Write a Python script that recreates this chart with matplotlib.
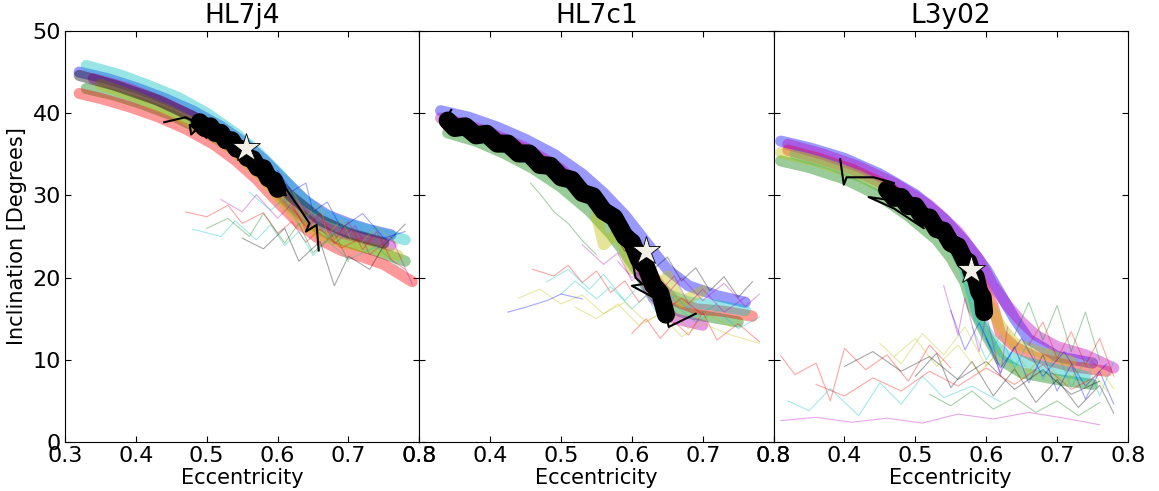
import matplotlib
matplotlib.use("Agg")
import matplotlib.pyplot as plt

names = ["HL7j4", "HL7c1", "L3y02"]
xticks = [0.3, 0.4, 0.5, 0.6, 0.7, 0.8]
yticks = [0, 10, 20, 30, 40, 50]
colors = ["b", "g", "r", "c", "m", "y", "k"]

# best fit (ecc, inc) for each object
best_e = [0.555, 0.620, 0.578]
best_i = [35.8, 23.2, 20.9]

# ---- HL7j4 walkers ----
j4_band = [
    ([0.32, 0.36, 0.40, 0.44, 0.48, 0.52, 0.55, 0.58, 0.61, 0.64, 0.67, 0.70, 0.73, 0.76],
     [45.0, 44.2, 43.1, 41.8, 40.3, 38.4, 36.6, 34.4, 31.8, 29.3, 27.6, 26.6, 25.8, 25.2]),
    ([0.33, 0.37, 0.41, 0.45, 0.49, 0.53, 0.56, 0.59, 0.62, 0.65, 0.68, 0.71, 0.74, 0.78],
     [43.0, 42.2, 41.1, 39.8, 38.1, 36.1, 34.0, 31.4, 28.6, 26.4, 24.9, 24.0, 23.2, 22.0]),
    ([0.32, 0.35, 0.39, 0.43, 0.47, 0.51, 0.54, 0.57, 0.60, 0.63, 0.66, 0.69, 0.72, 0.75, 0.79],
     [42.4, 41.8, 40.8, 39.6, 38.1, 36.2, 34.3, 32.0, 29.2, 26.6, 24.6, 23.3, 22.5, 21.6, 19.5]),
    ([0.33, 0.38, 0.42, 0.46, 0.50, 0.54, 0.57, 0.60, 0.63, 0.66, 0.69, 0.72, 0.75, 0.78],
     [45.8, 44.6, 43.3, 41.9, 40.0, 37.6, 35.4, 32.8, 30.0, 27.9, 26.7, 26.0, 25.3, 24.6]),
    ([0.34, 0.39, 0.44, 0.49, 0.53, 0.57, 0.60, 0.62, 0.65, 0.68, 0.72, 0.76],
     [44.2, 43.0, 41.3, 39.2, 37.0, 34.0, 30.9, 29.0, 26.8, 25.6, 24.8, 23.9]),
    ([0.35, 0.40, 0.45, 0.50, 0.54, 0.58, 0.61, 0.64, 0.67, 0.70, 0.74, 0.77],
     [43.5, 42.0, 40.2, 37.8, 35.4, 32.1, 29.0, 26.4, 24.8, 24.1, 23.4, 22.7]),
    ([0.32, 0.37, 0.43, 0.48, 0.52, 0.56, 0.59, 0.62, 0.66, 0.70, 0.75],
     [44.6, 43.4, 41.6, 39.6, 37.6, 35.0, 32.2, 29.8, 27.0, 25.4, 24.2]),
]
j4_cloud = [
    ([0.47, 0.50, 0.53, 0.55, 0.58, 0.60, 0.62, 0.64, 0.66, 0.69, 0.72],
     [28.0, 27.4, 28.8, 26.6, 27.9, 25.4, 26.8, 24.3, 25.9, 23.6, 24.9]),
    ([0.48, 0.52, 0.54, 0.57, 0.59, 0.61, 0.63, 0.65, 0.67, 0.70, 0.74, 0.77],
     [25.9, 25.0, 26.9, 24.6, 26.4, 23.9, 25.6, 22.7, 24.5, 22.2, 23.8, 21.3]),
    ([0.52, 0.55, 0.57, 0.60, 0.62, 0.64, 0.66, 0.68, 0.71, 0.73, 0.76, 0.79],
     [29.5, 28.0, 30.1, 27.2, 29.0, 25.8, 27.6, 24.1, 26.3, 22.8, 25.0, 19.2]),
    ([0.58, 0.60, 0.62, 0.64, 0.66, 0.67, 0.69, 0.71, 0.74, 0.77],
     [31.5, 29.0, 30.8, 27.5, 28.9, 25.2, 27.0, 23.5, 26.2, 24.0]),
    ([0.55, 0.58, 0.61, 0.63, 0.66, 0.68, 0.70, 0.73, 0.75, 0.78],
     [24.8, 23.5, 26.0, 22.0, 24.4, 19.0, 22.6, 21.0, 23.9, 26.5]),
    ([0.60, 0.62, 0.64, 0.65, 0.67, 0.69, 0.72, 0.75, 0.78],
     [33.0, 30.5, 31.5, 28.0, 29.2, 26.0, 27.8, 24.8, 25.6]),
    ([0.50, 0.53, 0.56, 0.58, 0.61, 0.63, 0.65, 0.68, 0.70],
     [26.0, 27.2, 25.0, 27.8, 24.2, 26.6, 23.0, 25.4, 22.0]),
    ([0.62, 0.64, 0.66, 0.68, 0.70, 0.72, 0.74, 0.76, 0.78],
     [28.6, 26.2, 27.8, 24.6, 26.8, 23.4, 25.6, 22.2, 21.0]),
    ([0.56, 0.59, 0.61, 0.63, 0.65, 0.67, 0.69],
     [30.4, 28.2, 29.6, 26.4, 28.0, 24.8, 26.2]),
]
j4_core_e = [0.490, 0.497, 0.505, 0.512, 0.520, 0.527, 0.535, 0.542, 0.550, 0.557,
             0.565, 0.572, 0.580, 0.587, 0.595, 0.600]
j4_core_i = [38.9, 38.2, 38.4, 37.6, 37.6, 36.7, 36.7, 35.7, 35.6, 34.6,
             34.4, 33.4, 33.3, 32.1, 31.8, 30.8]
j4_path_e = [0.440, 0.470, 0.492, 0.478, 0.476, 0.500, 0.492, 0.530, 0.570, 0.600,
             0.612, 0.598, 0.628, 0.645, 0.640, 0.655, 0.658]
j4_path_i = [38.9, 39.5, 38.6, 37.4, 38.6, 37.0, 39.0, 36.5, 33.5, 30.3,
             30.0, 32.5, 28.8, 26.6, 25.6, 26.4, 23.3]

# ---- HL7c1 walkers ----
c1_band = [
    ([0.33, 0.37, 0.41, 0.45, 0.49, 0.53, 0.56, 0.59, 0.61, 0.63, 0.65, 0.68, 0.72, 0.76],
     [40.3, 39.5, 38.3, 36.8, 35.0, 32.6, 30.3, 27.6, 25.4, 23.2, 21.0, 19.0, 17.8, 17.0]),
    ([0.34, 0.38, 0.42, 0.46, 0.50, 0.54, 0.57, 0.59, 0.61, 0.62, 0.64, 0.67, 0.71, 0.75],
     [37.6, 36.6, 35.1, 33.3, 31.0, 28.1, 25.3, 23.0, 20.5, 19.0, 16.9, 15.8, 15.2, 14.6]),
    ([0.34, 0.39, 0.44, 0.49, 0.53, 0.56, 0.58, 0.60, 0.62, 0.64, 0.66, 0.69, 0.73, 0.77],
     [39.0, 37.6, 35.9, 33.5, 30.9, 28.4, 26.3, 24.0, 21.5, 19.0, 17.2, 16.2, 15.9, 15.3]),
    ([0.35, 0.40, 0.45, 0.50, 0.54, 0.57, 0.60, 0.62, 0.63, 0.65, 0.68, 0.72, 0.76],
     [38.2, 36.6, 34.6, 32.2, 29.5, 27.0, 24.0, 21.0, 19.6, 18.0, 17.0, 16.6, 16.0]),
    ([0.33, 0.36, 0.40, 0.45, 0.50, 0.55, 0.58, 0.60, 0.61, 0.63, 0.66, 0.70],
     [39.4, 38.8, 37.6, 35.8, 33.2, 29.4, 26.5, 23.2, 21.0, 17.6, 15.0, 14.2]),
    ([0.55, 0.56, 0.58, 0.60, 0.62, 0.63, 0.65, 0.67, 0.70],
     [27.5, 24.0, 25.5, 21.0, 22.8, 18.0, 20.2, 17.0, 18.4]),
]
c1_cloud = [
    ([0.46, 0.49, 0.51, 0.53, 0.55, 0.57, 0.59, 0.61, 0.63, 0.65, 0.67, 0.70],
     [21.0, 20.2, 21.5, 19.4, 20.8, 18.2, 19.6, 17.0, 18.6, 16.2, 17.5, 15.5]),
    ([0.50, 0.52, 0.55, 0.57, 0.60, 0.62, 0.64, 0.66, 0.69, 0.72, 0.75, 0.78],
     [18.0, 19.6, 17.4, 18.9, 16.2, 17.8, 15.0, 16.7, 14.6, 16.0, 13.8, 15.2]),
    ([0.53, 0.56, 0.58, 0.60, 0.62, 0.65, 0.67, 0.70, 0.73, 0.76, 0.78],
     [24.0, 21.6, 23.0, 19.6, 21.2, 18.0, 20.0, 17.2, 19.3, 16.5, 18.0]),
    ([0.44, 0.47, 0.50, 0.53, 0.56, 0.59, 0.62, 0.65, 0.68, 0.71, 0.74, 0.77],
     [17.5, 18.6, 16.8, 17.9, 15.6, 17.0, 14.6, 16.2, 13.8, 15.4, 14.0, 16.0]),
    ([0.57, 0.59, 0.61, 0.63, 0.65, 0.67, 0.69, 0.71, 0.73, 0.75, 0.77],
     [26.0, 23.2, 24.8, 21.0, 22.5, 19.6, 21.2, 18.4, 20.1, 17.6, 19.5]),
    ([0.425, 0.45, 0.48, 0.50, 0.53],
     [15.8, 16.4, 17.2, 18.0, 17.4]),
    ([0.457, 0.47, 0.49, 0.51, 0.53, 0.55],
     [31.5, 30.2, 28.0, 26.6, 24.5, 22.8]),
    ([0.60, 0.62, 0.64, 0.66, 0.68, 0.70, 0.72, 0.75, 0.78],
     [13.2, 15.0, 12.6, 14.6, 13.0, 15.8, 12.4, 14.4, 12.2]),
    ([0.48, 0.51, 0.54, 0.56, 0.59, 0.61, 0.64, 0.66, 0.69, 0.72],
     [19.5, 21.0, 18.6, 20.4, 17.2, 19.0, 16.0, 17.8, 15.2, 16.8]),
    ([0.58, 0.60, 0.62, 0.64, 0.66, 0.68, 0.70, 0.73, 0.76],
     [22.0, 20.0, 21.6, 18.4, 20.2, 16.8, 18.6, 15.8, 17.6]),
    ([0.52, 0.55, 0.58, 0.61, 0.64, 0.67, 0.70, 0.74, 0.78],
     [16.4, 15.0, 16.8, 14.2, 15.6, 12.8, 14.4, 13.0, 12.0]),
]
c1_core_e = [0.340, 0.350, 0.365, 0.380, 0.395, 0.410, 0.425, 0.440, 0.455, 0.470,
             0.485, 0.500, 0.515, 0.530, 0.545, 0.560, 0.575, 0.590, 0.600, 0.610,
             0.620, 0.630, 0.640, 0.648]
c1_core_i = [39.1, 38.2, 38.4, 37.3, 37.5, 36.3, 36.3, 35.1, 35.1, 33.7,
             33.6, 32.2, 31.9, 30.3, 29.9, 28.1, 27.3, 25.0, 24.3, 22.2,
             21.3, 19.1, 18.1, 15.5]
c1_path_e = [0.345, 0.335, 0.350, 0.345, 0.400, 0.500, 0.560, 0.600, 0.605, 0.615,
             0.600, 0.630, 0.645, 0.652, 0.690]
c1_path_i = [40.4, 39.0, 38.0, 38.6, 36.8, 32.4, 28.0, 22.5, 20.0, 19.2,
             19.0, 17.6, 16.4, 14.0, 15.6]

# ---- L3y02 walkers ----
y02_band = [
    ([0.31, 0.35, 0.40, 0.45, 0.50, 0.54, 0.57, 0.60, 0.62, 0.64, 0.66, 0.70, 0.75],
     [36.6, 35.8, 34.5, 32.6, 30.1, 27.2, 24.4, 21.0, 18.0, 15.0, 12.5, 10.4, 9.6]),
    ([0.31, 0.35, 0.40, 0.45, 0.49, 0.53, 0.55, 0.57, 0.58, 0.60, 0.62, 0.65, 0.70, 0.75],
     [34.2, 33.4, 32.0, 29.9, 27.5, 24.6, 22.4, 19.4, 16.5, 13.0, 10.0, 8.4, 7.6, 7.0]),
    ([0.32, 0.36, 0.41, 0.46, 0.50, 0.54, 0.57, 0.59, 0.61, 0.62, 0.64, 0.67, 0.72, 0.77],
     [35.5, 34.6, 33.2, 31.2, 28.8, 25.8, 22.8, 20.0, 16.5, 13.2, 11.6, 10.3, 9.2, 8.6]),
    ([0.33, 0.38, 0.43, 0.48, 0.52, 0.55, 0.57, 0.58, 0.59, 0.61, 0.63, 0.66, 0.70, 0.74],
     [35.0, 33.8, 32.0, 29.6, 27.0, 24.2, 21.0, 18.0, 15.0, 12.0, 10.4, 9.6, 8.8, 8.0]),
    ([0.32, 0.37, 0.42, 0.47, 0.52, 0.56, 0.59, 0.61, 0.63, 0.65, 0.67, 0.70, 0.74, 0.78],
     [36.2, 35.0, 33.5, 31.5, 28.8, 25.6, 22.2, 19.0, 16.6, 14.6, 13.0, 11.6, 10.6, 9.0]),
    ([0.31, 0.36, 0.42, 0.48, 0.53, 0.56, 0.58, 0.60, 0.62, 0.64, 0.68, 0.72],
     [35.2, 34.2, 32.4, 29.8, 26.6, 23.6, 20.4, 17.4, 14.2, 12.0, 10.8, 9.8]),
]
y02_cloud = [
    ([0.31, 0.33, 0.36, 0.38, 0.40, 0.43, 0.46, 0.49, 0.52, 0.55],
     [10.5, 8.2, 9.6, 5.0, 11.4, 8.8, 10.6, 7.4, 11.8, 9.0]),
    ([0.32, 0.35, 0.38, 0.42, 0.45, 0.48, 0.51, 0.54, 0.58, 0.62],
     [5.0, 3.8, 6.5, 3.2, 7.2, 4.6, 8.0, 5.4, 6.8, 4.9]),
    ([0.31, 0.36, 0.41, 0.46, 0.51, 0.56, 0.61, 0.66, 0.71, 0.76],
     [2.6, 3.0, 2.4, 2.9, 2.3, 3.4, 2.8, 3.6, 2.9, 2.1]),
    ([0.45, 0.48, 0.51, 0.54, 0.57, 0.60, 0.63, 0.66, 0.69, 0.72, 0.75, 0.78],
     [12.0, 9.5, 13.2, 10.6, 14.0, 9.2, 12.4, 8.6, 11.5, 7.8, 10.2, 6.5]),
    ([0.50, 0.53, 0.55, 0.58, 0.61, 0.64, 0.67, 0.70, 0.73, 0.76, 0.78],
     [8.0, 10.8, 6.6, 9.8, 5.6, 8.9, 4.8, 7.6, 4.2, 6.9, 3.5]),
    ([0.55, 0.57, 0.59, 0.62, 0.65, 0.68, 0.71, 0.74, 0.77],
     [16.0, 11.2, 14.5, 9.0, 12.6, 8.0, 11.0, 6.8, 9.5]),
    ([0.64, 0.66, 0.68, 0.70, 0.72, 0.74, 0.76],
     [13.0, 17.0, 12.4, 16.6, 11.0, 15.8, 10.0]),
    ([0.36, 0.40, 0.44, 0.48, 0.52, 0.56, 0.60, 0.64, 0.68, 0.72, 0.76],
     [7.0, 5.6, 7.8, 6.2, 8.6, 6.8, 9.0, 7.0, 9.4, 6.4, 8.2]),
    ([0.58, 0.60, 0.62, 0.64, 0.66, 0.68, 0.70, 0.72, 0.74, 0.76, 0.78],
     [14.0, 10.0, 13.0, 9.0, 12.2, 7.6, 11.0, 6.6, 10.2, 5.6, 9.8]),
    ([0.54, 0.56, 0.57, 0.59, 0.60, 0.62, 0.63],
     [19.0, 13.0, 17.5, 11.0, 15.6, 8.0, 14.0]),
    ([0.47, 0.50, 0.53, 0.56, 0.59, 0.62, 0.65, 0.68, 0.71, 0.74, 0.77],
     [10.4, 12.6, 9.2, 11.8, 8.4, 11.2, 7.6, 10.6, 7.0, 9.8, 6.2]),
    ([0.40, 0.44, 0.48, 0.52, 0.56, 0.60, 0.64, 0.68, 0.72, 0.76],
     [9.2, 11.0, 8.6, 10.4, 7.6, 9.8, 6.4, 8.8, 5.8, 7.4]),
    ([0.60, 0.62, 0.64, 0.66, 0.68, 0.70, 0.72, 0.74, 0.76, 0.78],
     [12.6, 8.4, 11.6, 7.2, 10.6, 6.2, 9.4, 5.2, 8.6, 4.6]),
    ([0.52, 0.55, 0.58, 0.61, 0.64, 0.67, 0.70, 0.73, 0.76],
     [5.8, 4.4, 6.2, 4.0, 5.4, 3.6, 5.0, 3.2, 4.8]),
    ([0.66, 0.68, 0.70, 0.72, 0.74, 0.76, 0.78],
     [11.8, 14.6, 10.2, 13.4, 9.4, 12.6, 8.0]),
]
y02_core_e = [0.460, 0.470, 0.480, 0.490, 0.500, 0.510, 0.520, 0.530, 0.540, 0.550,
              0.560, 0.570, 0.575, 0.580, 0.585, 0.590, 0.595, 0.597]
y02_core_i = [30.7, 29.7, 29.8, 28.7, 28.7, 27.4, 27.3, 25.9, 25.7, 24.2,
              23.8, 22.0, 21.9, 20.5, 20.1, 18.3, 17.6, 15.8]
y02_path_e = [0.394, 0.399, 0.403, 0.441, 0.470, 0.455, 0.489, 0.470, 0.500, 0.434,
              0.470, 0.512, 0.490, 0.520]
y02_path_i = [34.4, 31.3, 32.2, 32.2, 31.5, 30.6, 30.4, 31.0, 29.0, 29.8,
              28.4, 26.0, 28.5, 27.5]

bands = [j4_band, c1_band, y02_band]
clouds = [j4_cloud, c1_cloud, y02_cloud]
cores = [(j4_core_e, j4_core_i), (c1_core_e, c1_core_i), (y02_core_e, y02_core_i)]
paths = [(j4_path_e, j4_path_i), (c1_path_e, c1_path_i), (y02_path_e, y02_path_i)]

fig, axes = plt.subplots(1, 3, figsize=(11.59, 4.91), dpi=100, sharey=True)
fig.subplots_adjust(left=0.0561, right=0.9732, bottom=0.0998, top=0.9369, wspace=0)

for k, ax in enumerate(axes):
    # all walker chains, coloured by index
    for n, (e, i) in enumerate(bands[k]):
        ax.plot(e, i, color=colors[n % 7], lw=8, alpha=0.4, solid_capstyle="round")
    for n, (e, i) in enumerate(clouds[k]):
        ax.plot(e, i, color=colors[(n + 2) % 7], lw=0.8, alpha=0.35)
    # highlighted chain
    ax.plot(cores[k][0], cores[k][1], color="k", lw=13, solid_joinstyle="round",
            solid_capstyle="round")
    ax.plot(paths[k][0], paths[k][1], color="k", lw=1.5)
    ax.plot(best_e[k], best_i[k], marker="*", ms=21, color="#f2efe6",
            markeredgecolor="k", markeredgewidth=0.6, zorder=5)

    ax.set_xlim(0.3, 0.8)
    ax.set_ylim(0, 50)
    ax.set_xticks(xticks)
    ax.set_yticks(yticks)
    ax.set_title(names[k], fontsize=19)
    ax.set_xlabel("Eccentricity", fontsize=15, labelpad=1)
    ax.tick_params(direction="in", top=True, right=True, length=4.5, width=0.8,
                   labelsize=16, pad=3)
    ax.tick_params(axis="y", labelleft=(k == 0))

axes[0].set_ylabel("Inclination [Degrees]", fontsize=15)

fig.savefig("out.png", dpi=100)
